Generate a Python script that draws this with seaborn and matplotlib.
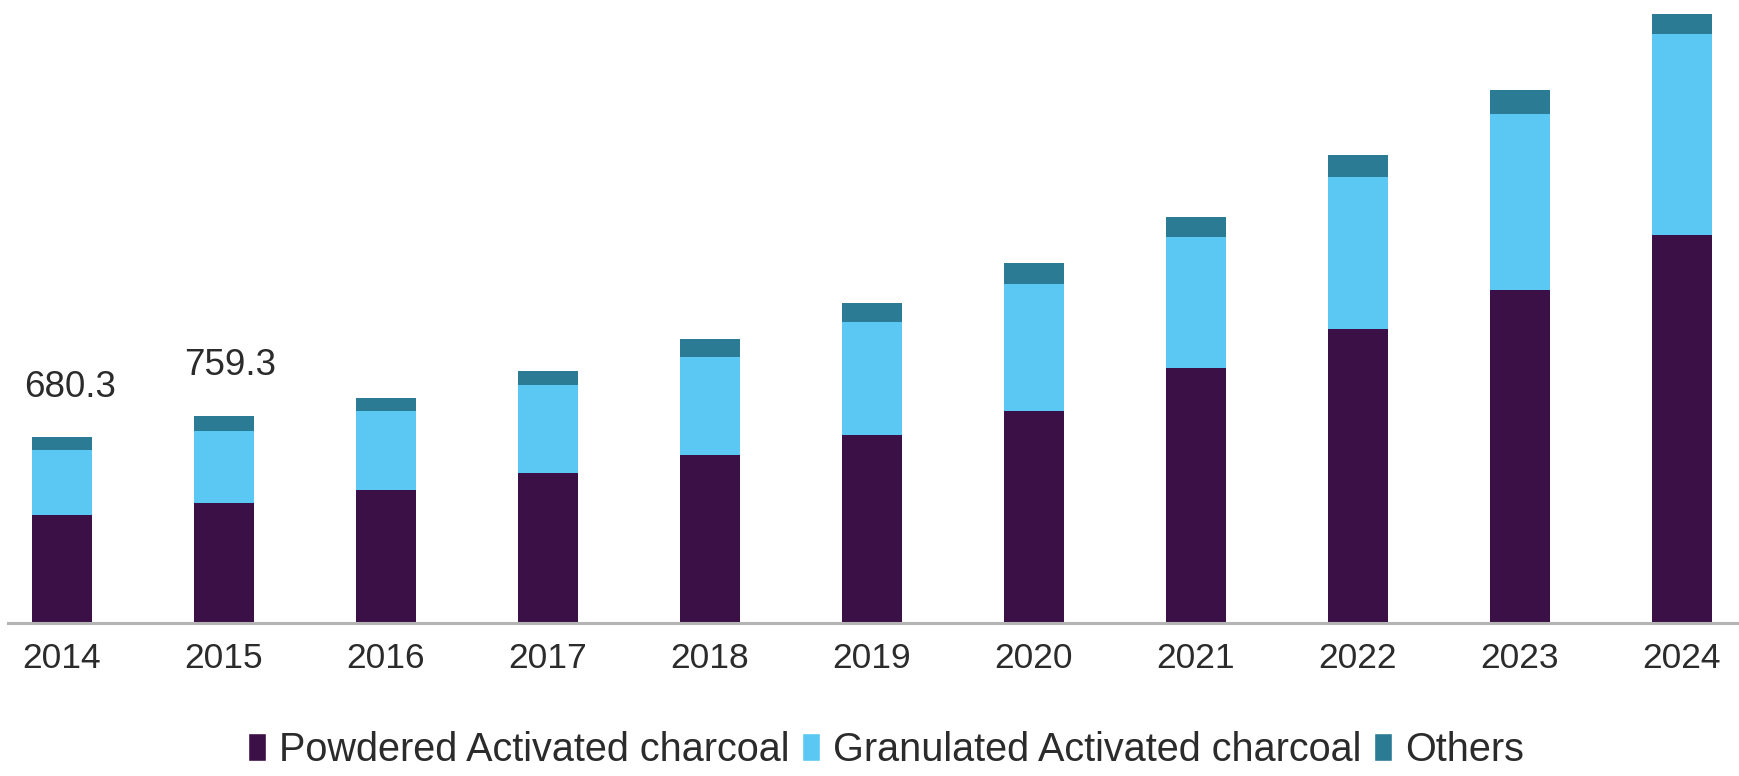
import matplotlib
matplotlib.use("Agg")
import matplotlib.pyplot as plt
import seaborn as sns
import numpy as np
import pandas as pd
from matplotlib.patches import Patch

sns.set_style("white")
plt.rcParams['font.family'] = ['Liberation Sans', 'DejaVu Sans']

# values
years = ['2014', '2015', '2016', '2017', '2018', '2019', '2020', '2021', '2022', '2023', '2024']
powdered = [395, 440, 487, 549, 615, 688, 776, 933, 1076, 1219, 1419]
granulated = [238, 262, 289, 322, 359, 414, 465, 479, 556, 642, 736]
others = [47.3, 57.3, 48, 51, 66, 70, 77, 73, 82, 90, 74]
labels = ['Powdered Activated charcoal', 'Granulated Activated charcoal', 'Others']
colors = ['#3b1046', '#5ac8f2', '#2c7b94']

df = pd.DataFrame({'year': years, 'powdered': powdered,
                   'granulated': granulated, 'others': others})
df['pg'] = df['powdered'] + df['granulated']
df['total'] = df['pg'] + df['others']

fig = plt.figure(figsize=(17.39, 7.76), dpi=100)
ax = fig.add_axes([8/1739, 1 - 623/776, 1 - 8/1739, 623/776])

# stacked bars: draw cumulative totals, biggest first
sns.barplot(data=df, x='year', y='total', color=colors[2], width=0.375,
            saturation=1, linewidth=0, ax=ax)
sns.barplot(data=df, x='year', y='pg', color=colors[1], width=0.375,
            saturation=1, linewidth=0, ax=ax)
sns.barplot(data=df, x='year', y='powdered', color=colors[0], width=0.375,
            saturation=1, linewidth=0, ax=ax)

ax.set_xlim(-0.333, 10.352)
ax.set_ylim(0, 2280)
ax.set_xlabel('')
ax.set_ylabel('')
ax.set_yticks([])
ax.tick_params(axis='x', length=0, pad=14, labelsize=25.5, labelcolor='#2b2b2b')
sns.despine(ax=ax, left=True, top=True, right=True)
ax.spines['bottom'].set_color('#b4b4b4')
ax.spines['bottom'].set_linewidth(2.2)

# total labels for the first two years
for i, dx in [(0, 8), (1, 6)]:
    ax.annotate(f"{df['total'][i]:.1f}", (i, df['total'][i]),
                xytext=(dx, 50), textcoords='offset pixels',
                ha='center', va='center', fontsize=26.5, color='#2b2b2b')

handles = [Patch(facecolor=c) for c in colors]
fig.legend(handles, labels, loc='center', bbox_to_anchor=(886/1739, 1 - 750/776),
           ncol=3, frameon=False, fontsize=28.5, handlelength=0.45,
           handleheight=0.7, handletextpad=0.35, columnspacing=0.3,
           labelcolor='#2b2b2b', borderpad=0.1)

fig.savefig('out.png', dpi=100)
